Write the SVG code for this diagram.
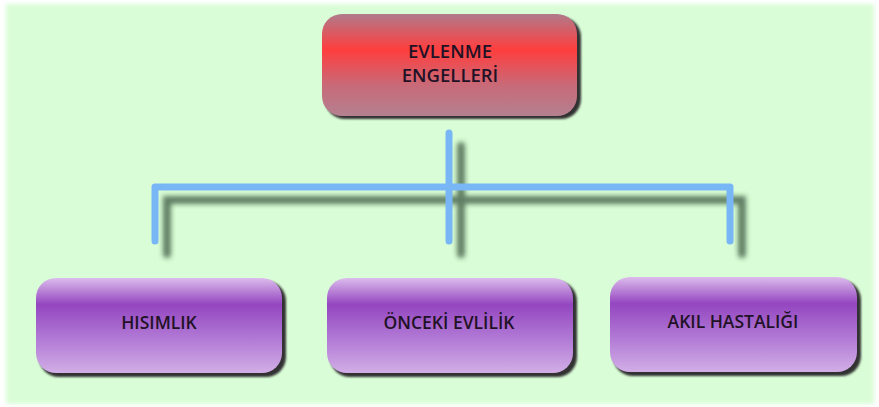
<svg xmlns="http://www.w3.org/2000/svg" width="879" height="407" viewBox="0 0 879 407">
<defs>
<linearGradient id="gRed" x1="0" y1="0" x2="0" y2="1">
<stop offset="0" stop-color="#b07a8a"/>
<stop offset="0.35" stop-color="#ff3e3e"/>
<stop offset="0.7" stop-color="#c86a78"/>
<stop offset="1" stop-color="#b48090"/>
</linearGradient>
<linearGradient id="gPur" x1="0" y1="0" x2="0" y2="1">
<stop offset="0" stop-color="#dcbcec"/>
<stop offset="0.28" stop-color="#9446c0"/>
<stop offset="0.65" stop-color="#b27bd6"/>
<stop offset="1" stop-color="#d2aee6"/>
</linearGradient>
<filter id="bgBlur" x="-5%" y="-5%" width="110%" height="110%"><feGaussianBlur stdDeviation="2"/></filter>
<filter id="lineSh" x="-10%" y="-20%" width="120%" height="140%"><feGaussianBlur stdDeviation="2.5"/></filter>
<filter id="boxSh" x="-10%" y="-10%" width="120%" height="130%"><feGaussianBlur stdDeviation="1.2"/></filter>
<style>
.lbl{font-family:"Open Sans","DejaVu Sans",sans-serif;font-weight:600;fill:#221226;text-anchor:middle}
.conn{fill:none;stroke:#78b6f6;stroke-width:7;stroke-linecap:round;stroke-linejoin:round}
.connSh{fill:none;stroke:#1e3a24;stroke-opacity:0.65;stroke-width:8;stroke-linecap:round}
.sh{fill:#333;filter:url(#boxSh)}
</style>
</defs>
<rect width="879" height="407" fill="#ffffff"/>
<rect x="6" y="4" width="868" height="400" fill="#d9fdd6" filter="url(#bgBlur)"/>
<g id="connectors">
<g filter="url(#lineSh)">
<path class="connSh" d="M461,146 V254 M167,254 V200 H742 V254"/>
</g>
<path class="conn" d="M449,133 V241 M155,241 V187 H730 V241"/>
</g>
<g id="node-root">
<rect class="sh" x="325" y="17" width="256" height="102" rx="20"/>
<rect x="322" y="14" width="255" height="102" rx="20" fill="url(#gRed)"/>
<text class="lbl" x="450" y="58" font-size="18.5">EVLENME</text>
<text class="lbl" x="450" y="82" font-size="18.5">ENGELLERİ</text>
</g>
<g id="node-hisimlik">
<rect class="sh" x="39" y="281" width="247" height="96" rx="20"/>
<rect x="36" y="278" width="246" height="95" rx="20" fill="url(#gPur)"/>
<text class="lbl" x="159" y="329" font-size="17.5">HISIMLIK</text>
</g>
<g id="node-onceki">
<rect class="sh" x="330" y="281" width="247" height="96" rx="20"/>
<rect x="327" y="278" width="246" height="95" rx="20" fill="url(#gPur)"/>
<text class="lbl" x="449" y="329" font-size="17.5">ÖNCEKİ EVLİLİK</text>
</g>
<g id="node-akil">
<rect class="sh" x="613" y="280" width="248" height="96" rx="20"/>
<rect x="610" y="277" width="247" height="95" rx="20" fill="url(#gPur)"/>
<text class="lbl" x="733" y="328" font-size="17.5">AKIL HASTALIĞI</text>
</g>
</svg>
